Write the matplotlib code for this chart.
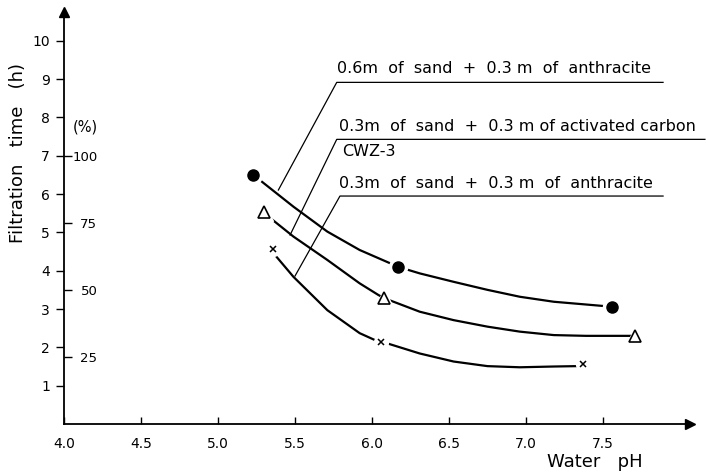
import matplotlib
matplotlib.use("Agg")
import matplotlib.pyplot as plt

# markers (pH, filtration time in h)
circ_x = [5.23, 6.17, 7.56]
circ_y = [6.50, 4.10, 3.06]
tri_x = [5.30, 6.08, 7.71]
tri_y = [5.54, 3.28, 2.30]
cross_x = [5.36, 6.06, 7.37]
cross_y = [4.57, 2.15, 1.56]

# hand-drawn curves, points
circ_cx = [5.23, 5.27, 5.49, 5.71, 5.92, 6.12, 6.17, 6.31, 6.53, 6.75, 6.96, 7.18, 7.50, 7.56]
circ_cy = [6.50, 6.37, 5.67, 5.02, 4.54, 4.19, 4.10, 3.93, 3.71, 3.50, 3.32, 3.19, 3.08, 3.06]
tri_cx = [5.30, 5.35, 5.49, 5.71, 5.92, 6.04, 6.08, 6.14, 6.31, 6.53, 6.75, 6.96, 7.18, 7.39, 7.65, 7.71]
tri_cy = [5.54, 5.34, 4.89, 4.28, 3.67, 3.37, 3.28, 3.19, 2.93, 2.71, 2.54, 2.41, 2.32, 2.30, 2.30, 2.30]
cross_cx = [5.36, 5.37, 5.49, 5.71, 5.92, 6.03, 6.06, 6.11, 6.31, 6.53, 6.75, 6.96, 7.18, 7.33, 7.37]
cross_cy = [4.57, 4.41, 3.84, 2.97, 2.37, 2.17, 2.15, 2.09, 1.84, 1.63, 1.51, 1.48, 1.50, 1.51, 1.56]

y_ticks = [1, 2, 3, 4, 5, 6, 7, 8, 9, 10]
x_ticks = [4.0, 4.5, 5.0, 5.5, 6.0, 6.5, 7.0, 7.5]
pct_ticks = [25, 50, 75, 100]

labels = ["0.6m  of  sand  +  0.3 m  of  anthracite",
          "0.3m  of  sand  +  0.3 m of activated carbon",
          "0.3m  of  sand  +  0.3 m  of  anthracite"]

plt.rcParams['font.family'] = ['DejaVu Sans']

fig = plt.figure(figsize=(7.06, 4.74), dpi=100)
ax = fig.add_axes([64 / 706, 50 / 474, 626 / 706, 412 / 474])
ax.set_xlim(4.0, 8.065)
ax.set_ylim(0, 10.75)

for s in ['top', 'right']:
    ax.spines[s].set_visible(False)
for s in ['left', 'bottom']:
    ax.spines[s].set_linewidth(1.3)
ax.plot(1, 0, '>k', transform=ax.transAxes, clip_on=False, markersize=7)
ax.plot(0, 1, '^k', transform=ax.transAxes, clip_on=False, markersize=7)

ax.set_xticks(x_ticks)
ax.set_xticklabels([f"{v:.1f}" for v in x_ticks])
ax.tick_params(axis='x', direction='in', length=5, width=1, pad=9, labelsize=10)
ax.set_yticks(y_ticks)
ax.tick_params(axis='y', direction='out', length=6, width=1, pad=4, labelsize=10)

# percentage scale on the inner side of the y axis
sec = ax.secondary_yaxis(0.0, functions=(lambda y: y / 7 * 100, lambda p: p * 7 / 100))
sec.set_alignment('right')
sec.set_yticks(pct_ticks)
sec.tick_params(direction='out', length=6, width=1, pad=18, labelsize=9.5)
for t in sec.get_yticklabels():
    t.set_horizontalalignment('right')
sec.spines['right'].set_visible(False)
ax.text(4.136, 7.75, "(%)", fontsize=10.5, ha='center', va='center')

# curves
for cx, cy in [(circ_cx, circ_cy), (tri_cx, tri_cy), (cross_cx, cross_cy)]:
    ax.plot(cx, cy, color='black', lw=1.6, solid_capstyle='round',
            solid_joinstyle='round', zorder=2)

# white halo so the curves stop short of the marks
ax.plot(circ_x, circ_y, 'o', color='white', markersize=13, zorder=3)
ax.plot(tri_x, tri_y, '^', color='white', markersize=13, zorder=3)
ax.plot(cross_x, cross_y, 'o', color='white', markersize=10, zorder=3)
ax.plot(circ_x, circ_y, 'o', color='black', markersize=8, zorder=4)
ax.plot(tri_x, tri_y, '^', mfc='white', mec='black', mew=1.2, markersize=8.5, zorder=4)
ax.plot(cross_x, cross_y, 'x', color='black', mew=1.1, markersize=5, zorder=4)

# leader lines and labels
lk = dict(color='black', lw=0.9, clip_on=False, zorder=1)
ax.plot([5.392, 5.771, 7.890], [6.105, 8.914, 8.914], **lk)
ax.plot([5.468, 5.771, 8.162], [4.930, 7.427, 7.427], **lk)
ax.plot([5.500, 5.792, 7.890], [3.861, 5.948, 5.948], **lk)
ax.text(5.775, 9.28, labels[0], fontsize=11.5, ha='left', va='center')
ax.text(5.786, 7.76, labels[1], fontsize=11.5, ha='left', va='center')
ax.text(5.803, 7.10, "CWZ-3", fontsize=11.5, ha='left', va='center')
ax.text(5.786, 6.28, labels[2], fontsize=11.5, ha='left', va='center')

fig.text(18 / 706, (474 - 153) / 474, "Filtration   time   (h)", rotation=90,
         fontsize=13, ha='center', va='center')
fig.text(595 / 706, (474 - 462) / 474, "Water   pH", fontsize=13, ha='center', va='center')

fig.savefig("out.png", dpi=100)
